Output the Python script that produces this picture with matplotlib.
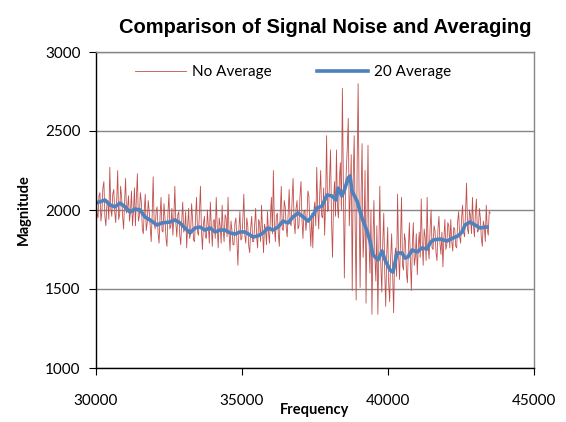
import matplotlib
matplotlib.use("Agg")
import matplotlib.pyplot as plt
import numpy as np

# raw signal, one value every 33.75 Hz starting at 30000
freq_start = 30000
freq_step = 33.75
no_average = [
    2150, 1980, 1950, 2090, 2110, 1930, 1990, 2140, 2180, 1960, 1900, 2030, 2060, 1940, 2270, 2010, 1960, 2100, 2130, 1990,
    1920, 2060, 2250, 1940, 1970, 2150, 2080, 1960, 1880, 2050, 2200, 1980, 2010, 2090, 1930, 1990, 2120, 1900, 1990, 2140,
    1900, 2080, 2230, 1930, 1960, 2110, 2050, 1880, 1850, 2000, 2100, 1870, 1920, 2060, 1990, 1890, 1800, 1970, 2210, 1920,
    1880, 1990, 2020, 1850, 1790, 1960, 2080, 1870, 1860, 2040, 1950, 1820, 1770, 1980, 2100, 1880, 1900, 2010, 1840, 1950,
    2150, 1920, 1830, 1970, 1990, 1840, 1780, 1930, 2050, 1860, 1880, 1990, 1760, 1900, 2010, 1820, 1850, 2040, 1940, 1810,
    1800, 1950, 2080, 1860, 1840, 1990, 2150, 1870, 1750, 1910, 1960, 1830, 1820, 2000, 1890, 1790, 2050, 1900, 1770, 1930,
    1940, 1820, 2080, 1900, 1760, 1950, 1900, 1790, 2030, 1880, 1800, 1970, 1950, 1830, 2080, 1860, 1740, 1930, 1870, 1780,
    1780, 1920, 1950, 1800, 1650, 1880, 1990, 1810, 1820, 1940, 2100, 1840, 1790, 1950, 1900, 1770, 1730, 1890, 1960, 1800,
    1800, 1900, 2010, 1830, 1760, 1940, 1920, 1800, 2030, 1870, 1730, 1910, 1880, 1780, 1990, 1860, 1790, 1960, 2080, 1850,
    2250, 1900, 1800, 1960, 1980, 1850, 1770, 1990, 2150, 1880, 1870, 2060, 2020, 1890, 1830, 1980, 2130, 1920, 1900, 2070,
    2200, 1920, 1850, 2010, 2060, 1880, 1900, 2090, 2180, 1940, 1820, 1990, 2000, 1870, 1940, 2120, 2090, 1900, 1770, 1980,
    1760, 1990, 2050, 1900, 2270, 2010, 1880, 2100, 2250, 1960, 1950, 2140, 1840, 2060, 2470, 1990, 2000, 2200, 2380, 1930,
    1700, 2050, 2180, 1960, 2380, 2020, 1950, 2200, 2300, 2000, 2770, 2150, 1570, 2060, 2250, 2400, 2580, 1900, 2100, 2350,
    1490, 2200, 2470, 1900, 1430, 2300, 2800, 2050, 1510, 2100, 2420, 1700, 1850, 2250, 1410, 1950, 2410, 1800, 1600, 2000,
    1340, 1800, 2060, 1700, 1550, 1900, 1340, 1750, 2150, 1650, 1480, 1800, 1980, 1600, 1390, 1720, 1890, 1530, 1420, 1700,
    1850, 1600, 1350, 1700, 1760, 1580, 2100, 1720, 1560, 1800, 2080, 1650, 1620, 1850, 1800, 1600, 1540, 1760, 1920, 1680,
    1490, 1780, 1920, 1650, 1700, 1850, 1590, 1760, 1860, 1700, 2070, 1800, 1650, 1880, 1830, 1680, 2080, 1770, 1690, 1880,
    2000, 1760, 1750, 1900, 1870, 1730, 1680, 1880, 1960, 1790, 1720, 1860, 1640, 1820, 1940, 1750, 1780, 1920, 1900, 1760,
    1940, 1800, 1740, 1890, 1880, 1770, 1760, 1930, 1990, 1830, 1790, 1950, 2030, 1860, 1830, 1990, 2170, 1880, 1850, 2000,
    1960, 1850, 2080, 1900, 1830, 1980, 2070, 1860, 1870, 2010, 1950, 1820, 1770, 1930, 1900, 1800, 2030, 1880, 1840, 1990,
    1980,
]

# 20 point average
avg_freq = [
    30000, 30308, 30480, 30651, 30822, 30993, 31165, 31336, 31507, 31678,
    31850, 32089, 32261, 32535, 32706, 32877, 33048, 33220, 33391, 33562,
    33733, 33905, 34076, 34247, 34418, 34590, 34761, 34932, 35103, 35275,
    35377, 35549, 35720, 35891, 36062, 36234, 36405, 36576, 36747, 36919,
    37056, 37261, 37432, 37569, 37741, 37912, 38083, 38220, 38289, 38426,
    38528, 38631, 38700, 38768, 38939, 39111, 39282, 39385, 39487, 39659,
    39796, 39898, 40070, 40172, 40309, 40481, 40583, 40686, 40823, 40994,
    41166, 41337, 41440, 41542, 41782, 42022, 42227, 42399, 42536, 42638,
    42810, 42981, 43152, 43323, 43392,
]
avg_mag = [
    2044, 2063, 2032, 2020, 2044, 2020, 1987, 2006, 2000, 1956,
    1937, 1905, 1918, 1924, 1937, 1918, 1886, 1855, 1886, 1892,
    1873, 1886, 1861, 1873, 1873, 1855, 1848, 1861, 1861, 1842,
    1829, 1836, 1855, 1886, 1873, 1892, 1930, 1918, 1956, 1981,
    1962, 1930, 1968, 2013, 2025, 2095, 2089, 2063, 2139, 2089,
    2139, 2202, 2215, 2120, 2057, 1949, 1867, 1804, 1716, 1684,
    1741, 1684, 1620, 1607, 1728, 1728, 1696, 1703, 1747, 1734,
    1760, 1753, 1791, 1810, 1816, 1804, 1823, 1836, 1861, 1905,
    1924, 1905, 1886, 1892, 1892,
]

freq = freq_start + freq_step * np.arange(len(no_average))

plt.rcParams['font.family'] = ['Lato', 'DejaVu Sans']

fig = plt.figure(figsize=(5.66, 4.22), dpi=100)
ax = fig.add_axes([96/566, 1-368/422, 438/566, 316/422])

ax.plot(freq, no_average, color='#C0504D', lw=0.6, label='No Average')
ax.plot(avg_freq, avg_mag, color='#4F81BD', lw=2.6, label='20 Average')

ax.set_xlim(30000, 45000)
ax.set_ylim(1000, 3000)
ax.set_xticks([30000, 35000, 40000, 45000])
ax.set_yticks([1000, 1500, 2000, 2500, 3000])
ax.yaxis.grid(True, color='#868686', lw=1.0)
ax.set_axisbelow(True)

for side in ['top', 'right']:
    ax.spines[side].set_color('#868686')
    ax.spines[side].set_linewidth(1.0)
for side in ['left', 'bottom']:
    ax.spines[side].set_color('#000000')
    ax.spines[side].set_linewidth(1.0)

ax.tick_params(axis='both', direction='out', length=5, width=0.8, labelsize=11)
ax.tick_params(axis='x', pad=14)
ax.tick_params(axis='y', pad=6)

ax.set_xlabel('Frequency', fontsize=10.5, fontweight='bold', labelpad=-4)
ax.set_ylabel('Magnitude', fontsize=10.5, fontweight='bold', labelpad=10)

fig.text(0.574, 0.935, 'Comparison of Signal Noise and Averaging',
         ha='center', va='center', fontsize=14.5, fontweight='bold',
         family=['Liberation Sans', 'DejaVu Sans'])

ax.legend(loc='center', bbox_to_anchor=(0.45, 0.937), ncol=2, frameon=False,
          fontsize=11, handlelength=3.3, handletextpad=0.4, columnspacing=3.0)

fig.savefig('out.png', dpi=100)
